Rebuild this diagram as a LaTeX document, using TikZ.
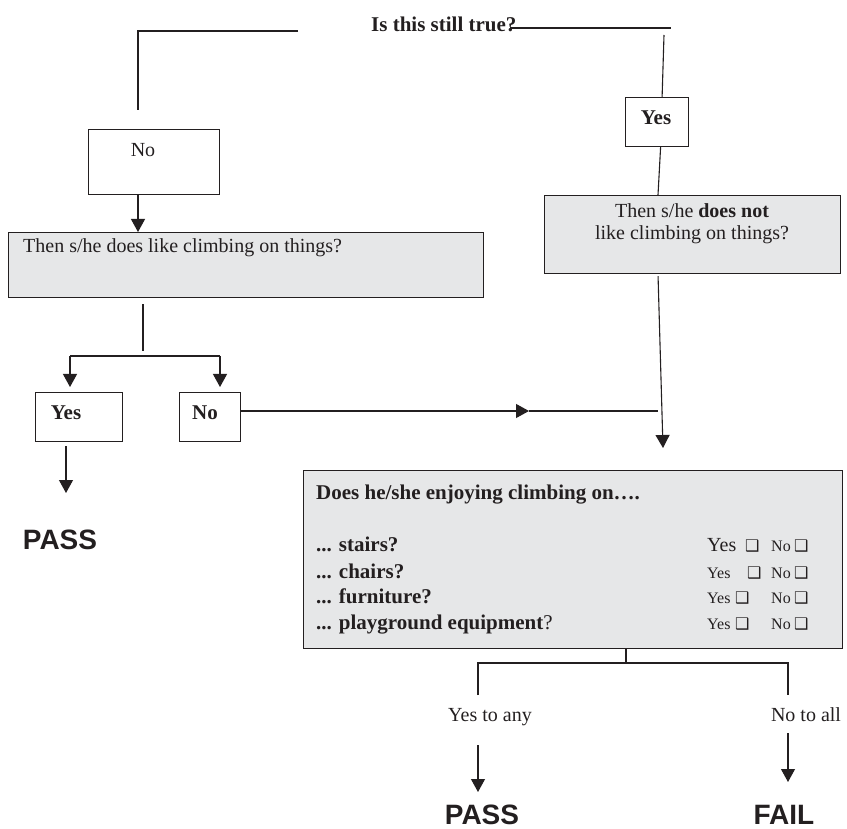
\documentclass[tikz,border=0pt]{standalone}
\usepackage{fontspec}
\setmainfont{Liberation Serif}
\newfontfamily\verdictfont{Liberation Sans}
\newfontfamily\symfont{DejaVu Sans}
\usetikzlibrary{arrows.meta}
\definecolor{ink}{HTML}{231F20}
\definecolor{panel}{HTML}{E6E7E8}
\newcommand{\tick}{{\symfont\fontsize{16}{16}\selectfont ❑}}

\begin{document}
\begin{tikzpicture}[x=1pt,y=-1pt,
  line/.style={draw=ink, line width=1.1pt},
  flow/.style={line, -{Triangle[length=13pt,width=14pt]}},
  frame/.style={draw=ink, line width=1.2pt, fill=white, inner sep=0pt, anchor=north west},
  shaded/.style={frame, fill=panel},
  txt/.style={text=ink, inner sep=0pt, font=\fontsize{20}{23}\selectfont},
  btxt/.style={txt, font=\bfseries\fontsize{21}{24}\selectfont},
  small/.style={txt, font=\fontsize{16}{18}\selectfont},
  verdict/.style={text=ink, inner sep=0pt, font=\verdictfont\bfseries\fontsize{28}{30}\selectfont},
]
\useasboundingbox (0,0) rectangle (847,829);

% ---- boxes ----
\node[frame,  minimum width=131pt, minimum height=65pt]  (noTop)  at (88,129)  {};
\node[frame,  minimum width=63pt,  minimum height=49pt]  (yesTop) at (625,97)  {};
\node[shaded, minimum width=475pt, minimum height=65pt]  (thenL)  at (8,232)   {};
\node[shaded, minimum width=296pt, minimum height=78pt]  (thenR)  at (544,195) {};
\node[frame,  minimum width=87pt,  minimum height=49pt]  (yesL)   at (35,392)  {};
\node[frame,  minimum width=61pt,  minimum height=49pt]  (noL)    at (179,392) {};
\node[shaded, minimum width=539pt, minimum height=178pt] (quiz)   at (303,470) {};

% ---- texts ----
\node[btxt, anchor=base west] (title) at (371,32) {Is this still true?};
\node[txt] (noTopTxt) at (143,150) {No};
\node[btxt] (yesTopTxt) at (656,118) {Yes};
\node[txt, anchor=base west] (thenLTxt) at (23,253) {Then s/he does like climbing on things?};
\node[txt, anchor=base] (thenRTxtA) at (692,218) {Then s/he \textbf{does not}};
\node[txt, anchor=base] (thenRTxtB) at (692,240) {like climbing on things?};
\node[btxt] (yesLTxt) at (66,413) {Yes};
\node[btxt] (noLTxt) at (205,413) {No};

\node[btxt, anchor=base west] (quizHead) at (316,499) {Does he/she enjoying climbing on….};
\node[btxt, anchor=base west] (q1) at (316,551) {... stairs?};
\node[btxt, anchor=base west] (q2) at (316,578) {... chairs?};
\node[btxt, anchor=base west] (q3) at (316,603) {... furniture?};
\node[btxt, anchor=base west] (q4) at (316,629) {... playground equipment\textmd{?}};

\node[small, anchor=base west] (a1) at (707,551)
  {\makebox[0pt][l]{\fontsize{20}{23}\selectfont Yes}\hspace{38pt}\makebox[0pt][l]{\tick}\hspace{26pt}\makebox[0pt][l]{No}\hspace{23pt}\tick};
\node[small, anchor=base west] (a2) at (707,578)
  {\makebox[0pt][l]{Yes}\hspace{40pt}\makebox[0pt][l]{\tick}\hspace{24pt}\makebox[0pt][l]{No}\hspace{23pt}\tick};
\node[small, anchor=base west] (a3) at (707,603)
  {\makebox[0pt][l]{Yes}\hspace{28pt}\makebox[0pt][l]{\tick}\hspace{36pt}\makebox[0pt][l]{No}\hspace{23pt}\tick};
\node[small, anchor=base west] (a4) at (707,629)
  {\makebox[0pt][l]{Yes}\hspace{28pt}\makebox[0pt][l]{\tick}\hspace{36pt}\makebox[0pt][l]{No}\hspace{23pt}\tick};

\node[txt, anchor=base] (anyYes) at (490,721) {Yes to any};
\node[txt, anchor=base] (allNo)  at (806,721) {No to all};

\node[verdict] (passL) at (60,540)  {PASS};
\node[verdict] (passR) at (482,815) {PASS};
\node[verdict] (fail)  at (784,815) {FAIL};

% ---- free line ends ----
\coordinate (topL1) at (298,31);
\coordinate (topL2) at (138,31);
\coordinate (topL3) at (138,110);
\coordinate (topR1) at (510,28);
\coordinate (topR2) at (671,28);
\coordinate (topR3) at (664,35);
\coordinate (splitL) at (143,351);
\coordinate (forkL1) at (70,356);
\coordinate (forkL2) at (220,356);
\coordinate (passArrowL) at (66,493);
\coordinate (midArrow) at (529,411);
\coordinate (joinR) at (658,411);
\coordinate (downR) at (663,448);
\coordinate (forkB) at (626,663);
\coordinate (forkB1) at (478,663);
\coordinate (forkB2) at (788,663);
\coordinate (forkB1e) at (478,695);
\coordinate (forkB2e) at (788,695);
\coordinate (passArrowS) at (478,745);
\coordinate (passArrowE) at (478,792);
\coordinate (failArrowS) at (788,733);
\coordinate (failArrowE) at (788,782);

% ---- connectors ----
\draw[line] (topL1) -- (topL2) -- (topL3);
\draw[line] (topR1) -- (topR2);
\draw[line] (topR3) -- ([xshift=5pt]yesTop.north);
\draw[line] ([xshift=3.5pt]yesTop.south) -- ([xshift=114pt]thenR.north west);
\draw[flow] (noTop.south -| topL2) -- (thenL.north -| topL2);
\draw[line, shorten <=6pt] (thenL.south -| splitL) -- (splitL);
\draw[line] (forkL1) -- (forkL2);
\draw[flow, shorten >=5pt] (forkL1) -- (yesL.north -| forkL1);
\draw[flow, shorten >=5pt] (forkL2) -- (noL.north -| forkL2);
\draw[flow, shorten <=4pt] (yesL.south -| passArrowL) -- (passArrowL);
\draw[flow] ([yshift=-19pt]noL.north east) -- (midArrow);
\draw[line] (midArrow) -- (joinR);
\draw[flow, shorten <=2pt] ([xshift=114pt]thenR.south west) -- (downR);
\draw[line] (quiz.south -| forkB) -- (forkB);
\draw[line] (forkB1e) -- (forkB1) -- (forkB2) -- (forkB2e);
\draw[flow] (passArrowS) -- (passArrowE);
\draw[flow] (failArrowS) -- (failArrowE);
\end{tikzpicture}
\end{document}
